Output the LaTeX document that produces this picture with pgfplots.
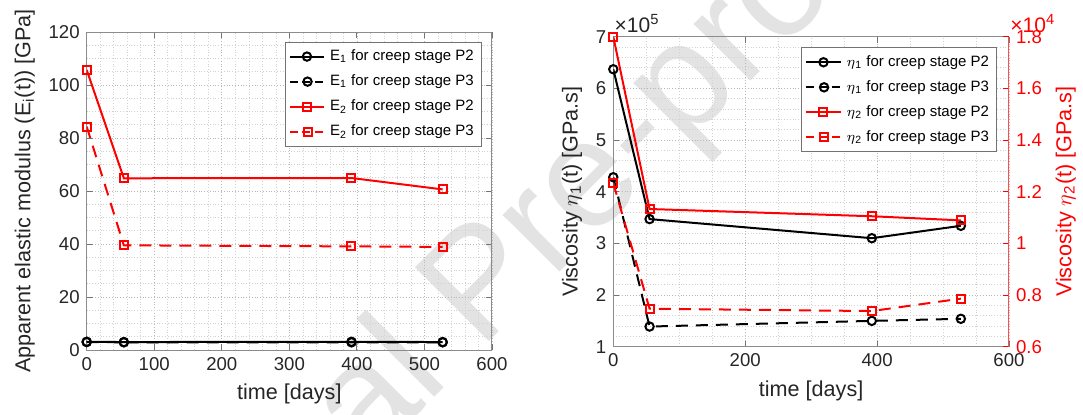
\documentclass[border=0pt]{standalone}
\usepackage{fontspec}
\setmainfont{Liberation Sans}
\usepackage{pgfplots}
\pgfplotsset{compat=1.18}
\definecolor{axgray}{gray}{0.15}

\pgfplotsset{
 mat/.style={
  scale only axis,
  axis line style={black!45, line width=0.5pt},
  tick style={black!55, line width=0.4pt},
  tick align=inside, major tick length=3pt, minor tick length=0pt,
  grid=both,
  major grid style={black!28, densely dotted, line width=0.35pt},
  minor grid style={black!18, densely dotted, line width=0.3pt},
  tick label style={font=\fontsize{9.3}{10}\selectfont, text=axgray},
  label style={font=\fontsize{10.8}{12}\selectfont, text=axgray},
  /pgf/number format/assume math mode=true,
  legend style={font=\fontsize{7.5}{9}\selectfont, draw=black!55, line width=0.5pt, fill=white, inner sep=1.8pt, row sep=1.6pt, text=black},
  legend cell align=left,
 },
 bsolid/.style={black, line width=1pt, mark=o, mark size=2.1pt, solid},
 bdash/.style={black, line width=1pt, mark=o, mark size=2.1pt, dash pattern=on 6pt off 4pt, mark options={solid},
   legend image code/.code={\draw[dash pattern=on 4pt off 2.3pt] (0cm,0cm) -- (0.62cm,0cm); \draw[solid] plot coordinates {(0.31cm,0cm)};}},
 rsolid/.style={red, line width=1pt, mark=square, mark size=2pt, solid},
 rdash/.style={red, line width=1pt, mark=square, mark size=2pt, dash pattern=on 6pt off 4pt, mark options={solid},
   legend image code/.code={\draw[dash pattern=on 4pt off 2.3pt] (0cm,0cm) -- (0.62cm,0cm); \draw[solid] plot coordinates {(0.31cm,0cm)};}},
}

\begin{document}
\begin{tikzpicture}
\useasboundingbox (0,0) rectangle (541.5pt,207pt);
\node[rotate=45, text=black!11, font=\fontsize{76}{78}\selectfont] at (243pt,62pt) {Journal Pre-proof};

% Left plot
\begin{axis}[mat,
  at={(43.35pt,32pt)}, anchor=south west, width=202.65pt, height=159pt,
  xmin=0, xmax=600, ymin=0, ymax=120,
  xtick={0,100,...,600}, ytick={0,20,...,120},
  minor x tick num=4, minor y tick num=3,
  xlabel={time [days]}, ylabel={Apparent elastic modulus (E\textsubscript{i}(t)) [GPa]},
  legend style={at={(0.975,0.97)}, anchor=north east},
]
\addplot[bsolid] coordinates {(0,3.1) (55,3.0) (392,3.1) (527,3.0)};
\addlegendentry{E\textsubscript{1} for creep stage P2}
\addplot[bdash] coordinates {(0,3.0) (55,2.9) (392,2.9) (527,2.9)};
\addlegendentry{E\textsubscript{1} for creep stage P3}
\addplot[rsolid] coordinates {(0,105.7) (55,64.8) (392,64.9) (527,60.6)};
\addlegendentry{E\textsubscript{2} for creep stage P2}
\addplot[rdash] coordinates {(0,84.3) (55,39.5) (392,39.1) (527,38.9)};
\addlegendentry{E\textsubscript{2} for creep stage P3}
\end{axis}

% Right plot, left axis (x 10^5)
\begin{axis}[mat, name=axR,
  at={(306.65pt,33.65pt)}, anchor=south west, width=197.85pt, height=155pt,
  xmin=0, xmax=600, ymin=1, ymax=7,
  xtick={0,200,400,600}, ytick={1,2,...,7},
  minor x tick num=3, minor y tick num=4,
  ytick pos=left,
  xlabel={time [days]}, ylabel={Viscosity $\eta$\textsubscript{1}(t) [GPa.s]},
  legend style={at={(0.97,0.966)}, anchor=north east},
]
\addplot[bsolid] coordinates {(0,6.37) (55,3.47) (392,3.10) (527,3.34)};
\addlegendentry{$\eta$\textsubscript{1} for creep stage P2}
\addplot[bdash] coordinates {(0,4.28) (55,1.39) (392,1.50) (527,1.54)};
\addlegendentry{$\eta$\textsubscript{1} for creep stage P3}
\addlegendimage{rsolid}
\addlegendentry{$\eta$\textsubscript{2} for creep stage P2}
\addlegendimage{rdash}
\addlegendentry{$\eta$\textsubscript{2} for creep stage P3}
\end{axis}

% Right plot, right axis (x 10^4)
\begin{axis}[
  scale only axis,
  at={(306.65pt,33.65pt)}, anchor=south west, width=197.85pt, height=155pt,
  xmin=0, xmax=600, ymin=0.6, ymax=1.8,
  axis x line=none, axis y line*=right,
  axis line style={red!70, line width=0.5pt},
  tick align=inside, major tick length=3pt,
  ytick={0.6,0.8,1,1.2,1.4,1.6,1.8},
  yticklabels={0.6,0.8,1,1.2,1.4,1.6,1.8},
  ytick style={red, line width=0.4pt},
  tick label style={font=\fontsize{9.3}{10}\selectfont, text=red},
  ylabel={Viscosity $\eta$\textsubscript{2}(t) [GPa.s]},
  label style={font=\fontsize{10.8}{12}\selectfont, text=red},
]
\addplot[rsolid] coordinates {(0,1.80) (55,1.133) (392,1.105) (527,1.089)};
\addplot[rdash] coordinates {(0,1.233) (55,0.747) (392,0.738) (527,0.786)};
\end{axis}
\node[anchor=south west, font=\fontsize{10.5}{11}\selectfont, text=axgray, inner sep=0.5pt] at ([xshift=0pt,yshift=1.5pt]axR.north west) {×10\textsuperscript{5}};
\node[anchor=south west, font=\fontsize{10.5}{11}\selectfont, text=red, inner sep=0.5pt] at ([xshift=0pt,yshift=1.5pt]axR.north east) {×10\textsuperscript{4}};
\end{tikzpicture}
\end{document}
